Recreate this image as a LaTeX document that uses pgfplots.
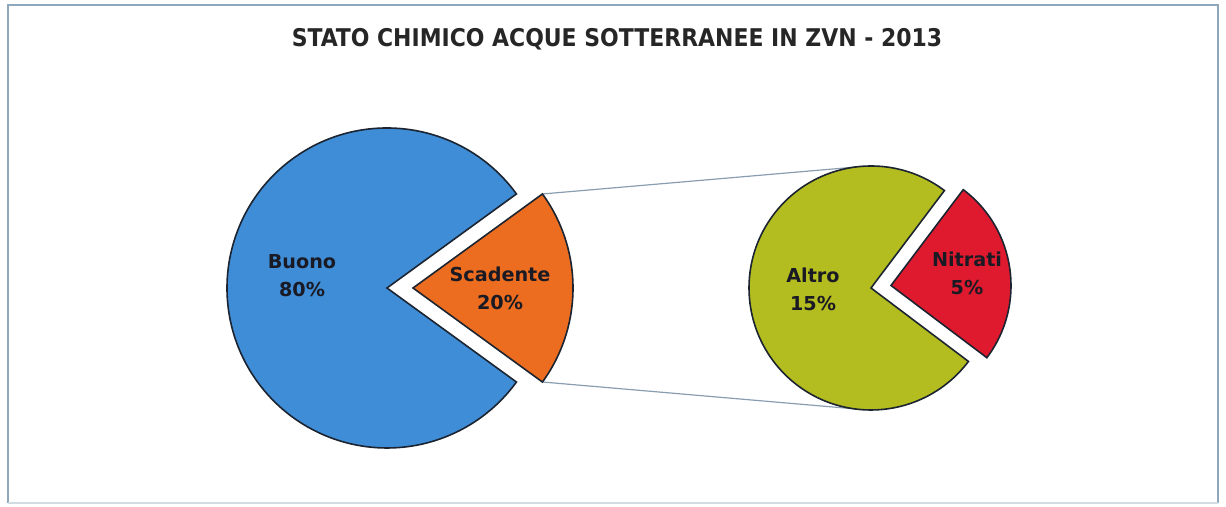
\documentclass[border=0pt]{standalone}
\usepackage{pgfplots}
\pgfplotsset{compat=1.18}
\usepackage{fontspec}
\setmainfont{DejaVu Sans}
\newfontfamily\titlefont{DejaVu Sans Condensed}
\definecolor{cBuono}{HTML}{3E8DD6}
\definecolor{cScad}{HTML}{EC6D1F}
\definecolor{cAltro}{HTML}{B4BD1F}
\definecolor{cNitr}{HTML}{DF1A2E}
\definecolor{cEdge}{HTML}{1B2430}
\definecolor{cConn}{HTML}{8A9DB0}
\definecolor{cFrame}{HTML}{8FA7BA}
\definecolor{cText}{HTML}{1A1A24}
% data (percent)
\def\vBuono{80}
\def\vScad{20}
\def\vAltro{15}
\def\vNitr{5}
\begin{document}
\begin{tikzpicture}
\begin{axis}[
  width=613pt, height=253.5pt, scale only axis,
  xmin=0, xmax=1226, ymin=0, ymax=507,
  hide axis, clip=false]
\path (axis cs:0,0) rectangle (axis cs:1226,507);
% frame
\addplot[cFrame, line width=0.9pt] coordinates {(8,4) (8,502) (1218,502) (1218,4)};
\addplot[cFrame!40!white, line width=0.6pt] coordinates {(8,4) (1218,4)};
% connectors
\addplot[cConn, line width=0.6pt] coordinates {(542.4,313) (862,340.5)};
\addplot[cConn, line width=0.6pt] coordinates {(542.4,125) (862,97.5)};
% left pie
\pgfmathsetmacro{\ha}{\vScad/(\vBuono+\vScad)*180}
\pgfmathsetmacro{\hb}{360-\ha}
\fill[cBuono, draw=cEdge, line width=0.8pt] (axis cs:387,219) -- ++(\ha:80pt) arc[start angle=\ha, end angle=\hb, radius=80pt] -- cycle;
\fill[cScad, draw=cEdge, line width=0.8pt] (axis cs:413,219) -- ++(-\ha:80pt) arc[start angle=-\ha, end angle=\ha, radius=80pt] -- cycle;
% right pie
\pgfmathsetmacro{\hc}{\vNitr/(\vAltro+\vNitr)*180}
\pgfmathsetmacro{\ca}{8+\hc}
\pgfmathsetmacro{\cb}{8-\hc+360}
\pgfmathsetmacro{\cc}{8-\hc}
\fill[cAltro, draw=cEdge, line width=0.8pt] (axis cs:871,219) -- ++(\ca:61pt) arc[start angle=\ca, end angle=\cb, radius=61pt] -- cycle;
\fill[cNitr, draw=cEdge, line width=0.8pt] (axis cs:891,221.5) -- ++(\cc:60pt) arc[start angle=\cc, end angle=\ca, radius=60pt] -- cycle;
% labels
\node[font=\titlefont\bfseries\fontsize{12.2}{14}\selectfont, text=black!85] at (axis cs:617,468) {STATO CHIMICO ACQUE SOTTERRANEE IN ZVN - 2013};
\node[font=\bfseries\fontsize{9.6}{14}\selectfont, text=cText, align=center] at (axis cs:302,231) {Buono\\80\%};
\node[font=\bfseries\fontsize{9.6}{14}\selectfont, text=cText, align=center] at (axis cs:500,219) {Scadente\\20\%};
\node[font=\bfseries\fontsize{9.6}{14}\selectfont, text=cText, align=center] at (axis cs:813,218) {Altro\\15\%};
\node[font=\bfseries\fontsize{9.6}{14}\selectfont, text=cText, align=center] at (axis cs:967,234) {Nitrati\\5\%};
\end{axis}
\end{tikzpicture}
\end{document}
